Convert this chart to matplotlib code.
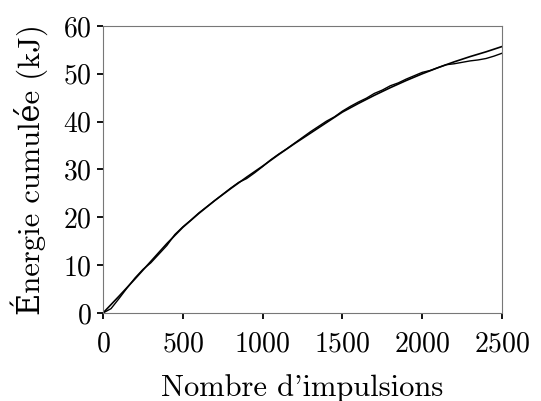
import numpy as np
import matplotlib
matplotlib.use('Agg')
import matplotlib.pyplot as plt

plt.rcParams['font.family'] = ['cmr10', 'DejaVu Serif']
plt.rcParams['axes.formatter.use_mathtext'] = True
plt.rcParams['mathtext.fontset'] = 'cm'

# smooth fitted curve, read every 100 impulses
fitX = np.arange(0, 2501, 100)
fitE = [0.0, 3.5, 7.1, 10.8, 14.5, 17.9, 20.8, 23.5, 26.0, 28.4,
        30.7, 33.1, 35.4, 37.6, 39.8, 42.0, 43.8, 45.5, 47.1, 48.6,
        50.0, 51.3, 52.5, 53.6, 54.6, 55.7]

# measured curve, read every 50 impulses
measX = np.arange(0, 2501, 50)
measE = [0.0, 0.9, 3.0, 5.2, 7.3, 9.1, 10.5, 12.3, 14.1, 16.4,
         18.0, 19.4, 20.9, 22.2, 23.5, 24.8, 26.1, 27.3, 28.1, 29.3,
         30.6, 32.0, 33.2, 34.3, 35.5, 36.7, 37.9, 39.0, 40.1, 41.0,
         42.2, 43.2, 44.1, 44.9, 45.9, 46.6, 47.5, 48.1, 48.9, 49.6,
         50.3, 50.7, 51.3, 51.9, 52.1, 52.4, 52.7, 52.9, 53.2, 53.7,
         54.3]

xTicks = [0, 500, 1000, 1500, 2000, 2500]
yTicks = [0, 10, 20, 30, 40, 50, 60]

fig = plt.figure(figsize=(5.41, 4.01), dpi=100)
ax = fig.add_axes([0.1904, 0.2195, 0.7375, 0.7157])

ax.plot(fitX, fitE, color='black', linewidth=1.2)
ax.plot(measX, measE, color='black', linewidth=1.0)

ax.set_xlim(0, 2500)
ax.set_ylim(0, 60)
ax.set_xticks(xTicks)
ax.set_yticks(yTicks)
ax.tick_params(direction='out', length=4, width=1.3, labelsize=20)
ax.tick_params(axis='x', pad=9)
ax.tick_params(axis='y', pad=4)

for side in ['left', 'bottom', 'top', 'right']:
    ax.spines[side].set_color('#777777')
    ax.spines[side].set_linewidth(0.8)

ax.set_xlabel("Nombre d'impulsions", fontsize=22, labelpad=12)
ax.set_ylabel('Énergie cumulée (kJ)', fontsize=22, labelpad=11)

fig.savefig('out.png', dpi=100)
